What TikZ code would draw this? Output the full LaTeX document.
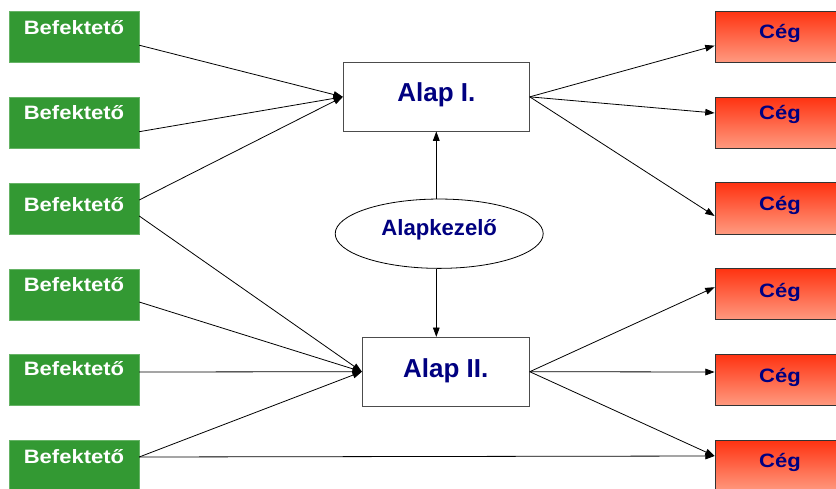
\documentclass[tikz,border=0pt]{standalone}
\usepackage{fontspec}
\setmainfont{Liberation Sans}
\newfontfamily\widesans[FakeStretch=1.14]{Liberation Sans}
\usetikzlibrary{shapes.geometric,arrows.meta,calc}
\definecolor{gfill}{HTML}{339933}
\definecolor{gline}{HTML}{66B366}
\definecolor{navy}{HTML}{000080}
\definecolor{rtop}{HTML}{FF3311}
\definecolor{rbot}{HTML}{FF9A80}
\begin{document}
\begin{tikzpicture}[x=0.75pt,y=-0.75pt,
 gbox/.style={rectangle, draw=gline, line width=0.5pt, fill=gfill, minimum width=97.3pt, minimum height=38.3pt, inner sep=0pt},
 gtxt/.style={text=white, font=\widesans\bfseries\fontsize{14.5pt}{17pt}\selectfont, inner sep=0pt},
 gb/.style={gbox, label={[gtxt, yshift=#1]center:Befektető}},
 rbox/.style={rectangle, draw=black!80, line width=0.6pt, top color=rtop, bottom color=rbot, minimum width=97.5pt, minimum height=38.5pt, inner sep=0pt},
 rtxt/.style={text=navy, font=\widesans\bfseries\fontsize{14.5pt}{17pt}\selectfont, inner sep=0pt},
 rb/.style={rbox, label={[rtxt, yshift=#1]center:Cég}},
 fund/.style={rectangle, draw=black!70, line width=0.7pt, fill=white, inner sep=0pt},
 ftxt/.style={text=navy, font=\bfseries\fontsize{19.5pt}{23pt}\selectfont, inner sep=0pt},
 mgr/.style={ellipse, draw=black, line width=0.6pt, fill=white, inner sep=0pt, minimum width=156pt, minimum height=52pt},
 mtxt/.style={text=navy, font=\bfseries\fontsize{16.6pt}{20pt}\selectfont, inner sep=0pt},
 conn/.style={line width=0.6pt, -{Triangle[length=7pt,width=5pt]}}
]
\useasboundingbox (0,0) rectangle (836,489);
% investors
\node[gb=7.2pt] (b1) at (74,37.2) {};
\node[gb=7.7pt] (b2) at (74,122.7) {};
\node[gb=3.1pt] (b3) at (74,208.5) {};
\node[gb=7.6pt] (b4) at (74,294.5) {};
\node[gb=8.7pt] (b5) at (74,380) {};
\node[gb=6.8pt] (b6) at (74,465.5) {};
% companies
\node[rb=2.6pt] (c1) at (780,36.7) {};
\node[rb=6.4pt] (c2) at (780,123) {};
\node[rb=2.6pt] (c3) at (780,208.5) {};
\node[rb=1.1pt] (c4) at (780,294.2) {};
\node[rb=2.1pt] (c5) at (780,380) {};
\node[rb=3pt] (c6) at (780,466) {};
% funds
\node[fund, minimum width=139.5pt, minimum height=51.2pt, label={[ftxt, yshift=1.8pt]center:Alap I.}] (a1) at (436.3,96.85) {};
\node[fund, minimum width=125.2pt, minimum height=51.5pt, label={[ftxt, yshift=0.8pt]center:Alap II.}] (a2) at (445.8,371.7) {};
% manager
\node[mgr, label={[mtxt, yshift=3pt]center:Alapkezelő}] (m) at (439.2,233.7) {};
% connectors
\draw[conn] ($(b1.east)+(0,8)$) -- (a1.west);
\draw[conn] ($(b2.east)+(0,9)$) -- (a1.west);
\draw[conn] ($(b3.east)+(0,-8.5)$) -- (a1.west);
\draw[conn] ($(b3.east)+(0,7.5)$) -- (a2.west);
\draw[conn] ($(b4.east)+(0,7.5)$) -- (a2.west);
\draw[conn] ($(b5.east)+(0,-8)$) -- (a2.west);
\draw[conn] ($(b6.east)+(0,-8.5)$) -- (a2.west);
\draw[conn] ($(b6.east)+(0,-8.5)$) -- ($(c6.west)+(0,-10)$);
\draw[conn] (a1.east) -- ($(c1.west)+(0,9)$);
\draw[conn] (a1.east) -- ($(c2.west)+(0,-10)$);
\draw[conn] (a1.east) -- ($(c3.west)+(0,7.5)$);
\draw[conn] (a2.east) -- ($(c4.west)+(0,-7)$);
\draw[conn] (a2.east) -- ($(c5.west)+(0,-8)$);
\draw[conn] (a2.east) -- ($(c6.west)+(0,-10)$);
\draw[conn] (a1.south |- m.north) -- (a1.south);
\draw[conn] (a1.south |- m.south) -- (a1.south |- a2.north);
\end{tikzpicture}
\end{document}
